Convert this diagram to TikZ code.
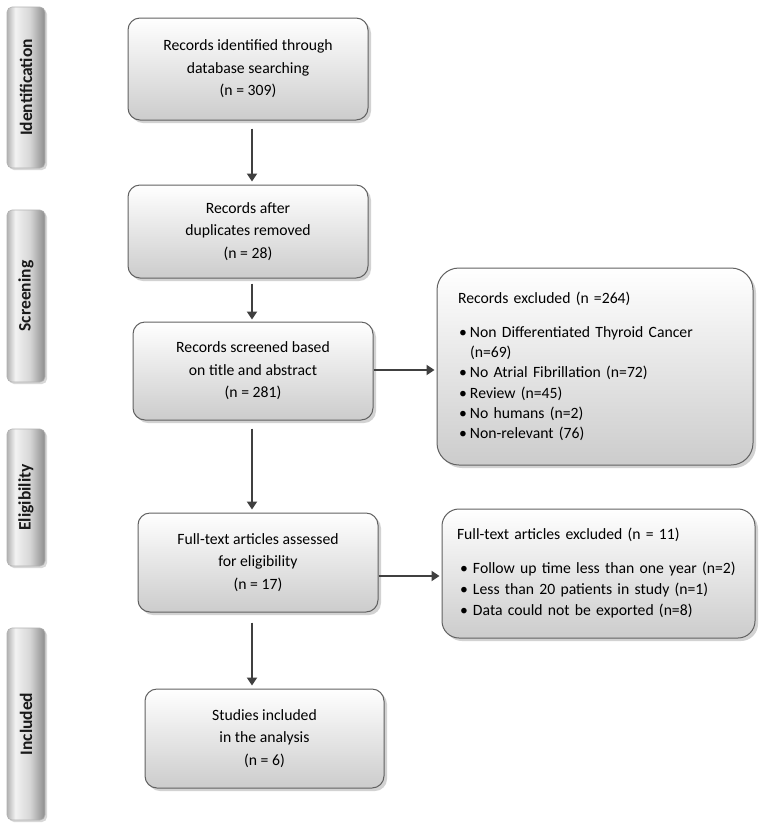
\documentclass[tikz,border=0pt]{standalone}
\usepackage{fontspec}
\setmainfont{Carlito}
\usetikzlibrary{arrows.meta,shadows,calc}
\pgfdeclarehorizontalshading{barshade}{100bp}{color(0bp)=(black!30); color(25bp)=(black!30); color(36bp)=(black!5); color(55bp)=(black!16); color(75bp)=(black!45); color(100bp)=(black!45)}
\begin{document}
\begin{tikzpicture}[x=1pt,y=-1pt,
  box/.style={draw=black!62, line width=1pt, rounded corners=12pt,
    top color=white, bottom color=black!20,
    drop shadow={shadow xshift=3pt, shadow yshift=-3pt, opacity=0.35},
    align=center, inner sep=0pt, text=black,
    font=\fontsize{15.7}{22.5}\selectfont},
  rbox/.style={box, align=left},
  bar/.style={draw=black!30, line width=0.6pt, rounded corners=5pt,
    shading=barshade, minimum width=38pt, inner sep=0pt,
    drop shadow={shadow xshift=2pt, shadow yshift=-2pt, opacity=0.3},
    text=black!90, font=\fontsize{17.5}{20}\selectfont\bfseries},
  arr/.style={line width=2.6pt, draw=black!75, -{Triangle[length=8pt,width=10pt]}}]
\fill[white] (0,0) rectangle (762,823);
\useasboundingbox (0,0) rectangle (762,823);

% phase bars
\node[bar, minimum height=161pt] (s1) at (26,87.5) {\rotatebox{90}{Identification}};
\node[bar, minimum height=172pt] (s2) at (26,296) {\rotatebox{90}{Screening}};
\node[bar, minimum height=137pt] (s3) at (26,497.5) {\rotatebox{90}{Eligibility}};
\node[bar, minimum height=192pt] (s4) at (26,724) {\rotatebox{90}{Included}};

% main boxes
\node[box, minimum width=240pt, minimum height=102pt] (b1) at (248,69)
  {Records identified through\\database searching\\(n = 309)};
\node[box, minimum width=240pt, minimum height=93pt] (b2) at (248,231.5)
  {Records after\\duplicates removed\\(n = 28)};
\node[box, minimum width=240pt, minimum height=98pt] (b3) at (253,371)
  {Records screened based\\on title and abstract\\(n = 281)};
\node[box, minimum width=240pt, minimum height=99pt] (b4) at (258,562.5)
  {Full-text articles assessed\\for eligibility\\(n = 17)};
\node[box, minimum width=239pt, minimum height=99pt] (b5) at (264.5,738.5)
  {Studies included\\in the analysis\\(n = 6)};

% exclusion boxes
\node[rbox, rounded corners=22pt, minimum width=316pt, minimum height=197pt,
  text width=274pt, inner xsep=21pt, font=\fontsize{15.7}{20.3}\selectfont] (r1) at (595,366.5)
  {Records excluded (n =264)\\[13.5pt]
   \hspace*{1pt}\makebox[11pt][l]{•}\mbox{Non Differentiated Thyroid Cancer}\\
   \hspace*{12pt}(n=69)\\
   \hspace*{1pt}\makebox[11pt][l]{•}\mbox{No Atrial Fibrillation (n=72)}\\
   \hspace*{1pt}\makebox[11pt][l]{•}\mbox{Review (n=45)}\\
   \hspace*{1pt}\makebox[11pt][l]{•}\mbox{No humans (n=2)}\\
   \hspace*{1pt}\makebox[11pt][l]{•}\mbox{Non-relevant (76)}};
\node[rbox, rounded corners=17pt, minimum width=313pt, minimum height=129pt,
  text width=283pt, inner xsep=15pt, font=\fontsize{15.7}{21}\selectfont] (r2) at (598.5,573.5)
  {\mbox{Full-text articles excluded (n = 11)}\\[13pt]
   \hspace*{3pt}\makebox[13pt][l]{•}\mbox{Follow up time less than one year (n=2)}\\
   \hspace*{3pt}\makebox[13pt][l]{•}\mbox{Less than 20 patients in study (n=1)}\\
   \hspace*{3pt}\makebox[13pt][l]{•}\mbox{Data could not be exported (n=8)}};

% connectors
\coordinate (ax) at (252,0);
\coordinate (ya) at (0,370);
\coordinate (yb) at (0,576);
\draw[arr] ($(b1.south -| ax)+(0,8)$) -- ($(b2.north -| ax)+(0,-3)$);
\draw[arr] ($(b2.south -| ax)+(0,5)$) -- ($(b3.north -| ax)+(0,-2)$);
\draw[arr] ($(b3.south -| ax)+(0,8)$) -- ($(b4.north -| ax)+(0,-3)$);
\draw[arr] ($(b4.south -| ax)+(0,10)$) -- ($(b5.north -| ax)+(0,-3)$);
\draw[arr] (b3.east |- ya) -- ($(r1.west |- ya)+(-2,0)$);
\draw[arr] (b4.east |- yb) -- ($(r2.west |- yb)+(-2,0)$);
\end{tikzpicture}
\end{document}
